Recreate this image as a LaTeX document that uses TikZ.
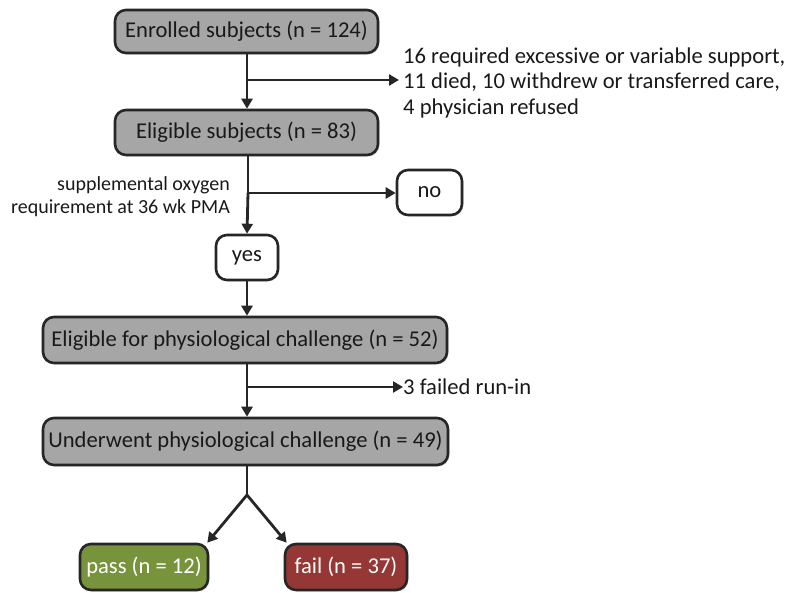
\documentclass[tikz,border=0pt]{standalone}
\usepackage{fontspec}
\setmainfont{Carlito}
\usetikzlibrary{arrows.meta,shadows}
\definecolor{boxgray}{HTML}{A6A6A6}
\definecolor{passgreen}{HTML}{77933C}
\definecolor{failred}{HTML}{953735}
\definecolor{linecol}{HTML}{262626}
\begin{document}
\begin{tikzpicture}[x=1pt,y=-1pt,
  every node/.style={font=\fontsize{22.6}{25.5}\selectfont, text=black!90},
  box/.style={draw=linecol, line width=2.6pt, rounded corners=11pt, fill=boxgray,
    inner sep=0pt, align=center,
    drop shadow={shadow xshift=1.5pt, shadow yshift=-1.5pt, opacity=0.25}},
  whitebox/.style={box, fill=white},
  passbox/.style={box, fill=passgreen, text=white},
  failbox/.style={box, fill=failred, text=white},
  arr/.style={draw=linecol, line width=2.8pt, -{Triangle[length=10pt,width=11pt]}},
  ln/.style={draw=linecol, line width=2.8pt},
  note/.style={inner sep=0pt},
  smallnote/.style={note, font=\fontsize{20}{23.5}\selectfont}
]
\useasboundingbox (0,0) rectangle (787,593);

\node[box, minimum width=263pt, minimum height=43pt] (enr) at (246.5,31.5) {Enrolled subjects (n = 124)};
\node[box, minimum width=263pt, minimum height=45pt] (elig) at (246.5,132.5) {Eligible subjects (n = 83)};
\node[whitebox, minimum width=65pt, minimum height=45pt] (no) at (429.5,192.5) {no};
\node[whitebox, minimum width=62pt, minimum height=45pt] (yes) at (247,257.5) {yes};
\node[box, minimum width=404pt, minimum height=46pt] (ephys) at (245,340) {Eligible for physiological challenge (n = 52)};
\node[box, minimum width=405pt, minimum height=47pt] (under) at (245.5,441.5) {Underwent physiological challenge (n = 49)};
\node[passbox, minimum width=128pt, minimum height=46pt] (pass) at (144,567) {pass (n = 12)};
\node[failbox, minimum width=122pt, minimum height=46pt] (fail) at (346,567) {fail (n = 37)};

% exclusion 1
\node[note, anchor=west, align=left] (excl) at (403,82.5) {16 required excessive or variable support,\\11 died, 10 withdrew or transferred care,\\4 physician refused};
\coordinate (b1) at (247,80);
\coordinate (e1) at (399,80);
\draw[ln] (enr.south -| b1) -- (b1);
\draw[arr] (b1) -- (e1);
\draw[arr] (b1) -- (b1 |- elig.north);

% oxygen question
\coordinate (b2) at (248,193);
\node[smallnote, anchor=east, align=right] (oxy) at (230,196.5) {supplemental oxygen\\requirement at 36 wk PMA};
\draw[ln] (b2 |- elig.south) -- (b2);
\draw[arr] (b2) -- (no.west |- b2);
\draw[arr] (b2) -- (yes.north);

\draw[arr] (yes.south) -- (yes.south |- ephys.north);

% run-in
\coordinate (b3) at (247,387);
\node[note, anchor=west] (runin) at (403,387) {3 failed run-in};
\draw[ln] (b3 |- ephys.south) -- (b3);
\draw[arr] (b3) -- (runin.west);
\draw[arr] (b3) -- (b3 |- under.north);

% split
\coordinate (s) at (247,495);
\draw[ln] (s |- under.south) -- (s);
\draw[arr] (s) -- ([xshift=-2pt]pass.north east);
\draw[arr] (s) -- ([xshift=3pt]fail.north west);
\end{tikzpicture}
\end{document}
